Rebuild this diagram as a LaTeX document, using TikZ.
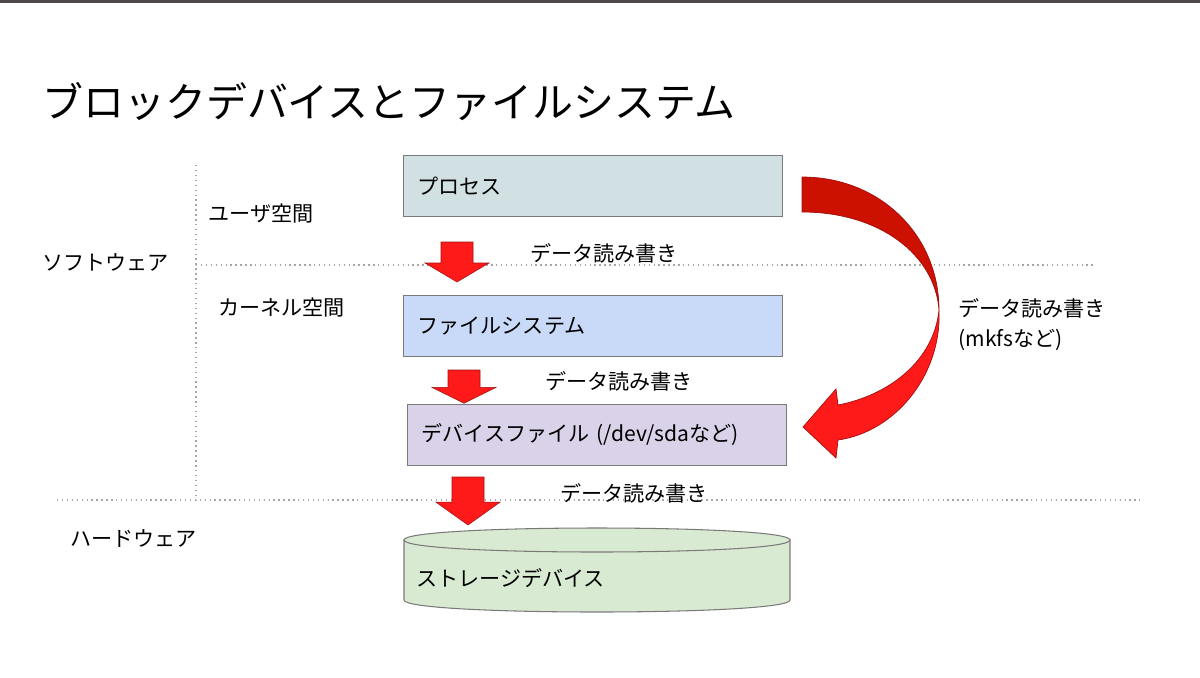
\documentclass[tikz,border=0pt]{standalone}
\usepackage{fontspec}
\setmainfont{Noto Sans CJK JP}
\usepackage{tikz}
\usepackage{xcolor}
\usetikzlibrary{arrows.meta, positioning}

\definecolor{proccol}{HTML}{D0E0E3}
\definecolor{fscol}{HTML}{C9DAF8}
\definecolor{devcol}{HTML}{D9D2E9}
\definecolor{stcol}{HTML}{D9EAD3}
\definecolor{rwred}{HTML}{FF1A1A}
\definecolor{rwdark}{HTML}{CC1100}
\definecolor{rwedge}{HTML}{A01010}
\definecolor{boxedge}{HTML}{7A7A7A}
\definecolor{topbar}{HTML}{4E4848}
\newlength\pu
\setlength\pu{0.02cm}

\tikzset{
    pics/dnarrow/.style={code={
        \fill[rwred, draw=rwedge, line width=0.3pt]
            (-16,0) -- (16,0) -- (16,21) -- (32,21) -- (0,40) -- (-32,21) -- (-16,21) -- cycle;
    }}
}

\begin{document}
\begin{tikzpicture}[x=0.02cm, y=-0.02cm,
    every node/.style={inner sep=0pt, font=\fontsize{12}{14}\selectfont},
    lbl/.style={anchor=west},
    box/.style={draw=boxedge, line width=0.6pt, anchor=north west, minimum height=61\pu,
        text width=351\pu, inner xsep=14\pu, align=left},
    sep/.style={draw=gray!70, dotted, line width=0.8pt}]
    \useasboundingbox (0,0) rectangle (1200,677);
    \fill[topbar] (0,0) rectangle (1200,3);

    \node[lbl, font=\fontsize{23.3}{28}\selectfont] (title) at (42,102) {ブロックデバイスとファイルシステム};

    % layer separators
    \coordinate (vtop) at (196,165);
    \coordinate (vbot) at (196,500);
    \draw[sep] (vtop) -- (vbot);
    \draw[sep] (196,265) -- (1095,265);
    \draw[sep] (57,500) -- (1140,500);

    \node[lbl] (user) at (208,213) {ユーザ空間};
    \node[lbl] (soft) at (42,262) {ソフトウェア};
    \node[lbl] (kern) at (218,307) {カーネル空間};
    \node[lbl] (hard) at (70,538) {ハードウェア};

    \node[box, fill=proccol] (proc) at (403,155) {プロセス};
    \node[box, fill=fscol] (fs) at (403,295) {ファイルシステム};
    \node[box, fill=devcol] (dev) at (407,404) {デバイスファイル (/dev/sdaなど)};

    % storage cylinder
    \filldraw[fill=stcol, draw=boxedge, line width=0.6pt]
        (404,540) -- (404,600) .. controls (404,616) and (790,616) .. (790,600) -- (790,540) -- cycle;
    \filldraw[fill=stcol, draw=boxedge, line width=0.6pt]
        (404,540) .. controls (404,524) and (790,524) .. (790,540)
        .. controls (790,556) and (404,556) .. (404,540) -- cycle;
    \node[lbl] (stor) at (416,578) {ストレージデバイス};

    % read/write arrows
    \pic at (457,242) {dnarrow};
    \pic[yscale=0.83] at (464,370) {dnarrow};
    \pic[yscale=1.2] at (468,477) {dnarrow};
    \node[lbl] (rw1) at (530,253) {データ読み書き};
    \node[lbl] (rw2) at (545,381) {データ読み書き};
    \node[lbl] (rw3) at (560,493) {データ読み書き};

    % the curved arrow
    \filldraw[fill=rwdark, draw=rwedge, line width=0.4pt]
        (802,177) .. controls (880,177) and (939,235) .. (939,310)
        .. controls (935,255) and (880,212) .. (802,212) -- cycle;
    \filldraw[fill=rwred, draw=rwedge, line width=0.4pt]
        (939,310) .. controls (942,375) and (895,432) .. (838,440)
        -- (836,458) -- (803,427) -- (836,389) -- (838,405)
        .. controls (890,395) and (934,360) .. (939,310) -- cycle;
    \node[lbl] (rw4) at (958,308) {データ読み書き};
    \node[lbl, below=11\pu of rw4.south west, anchor=north west] (mkfs) {(mkfsなど)};
\end{tikzpicture}
\end{document}
